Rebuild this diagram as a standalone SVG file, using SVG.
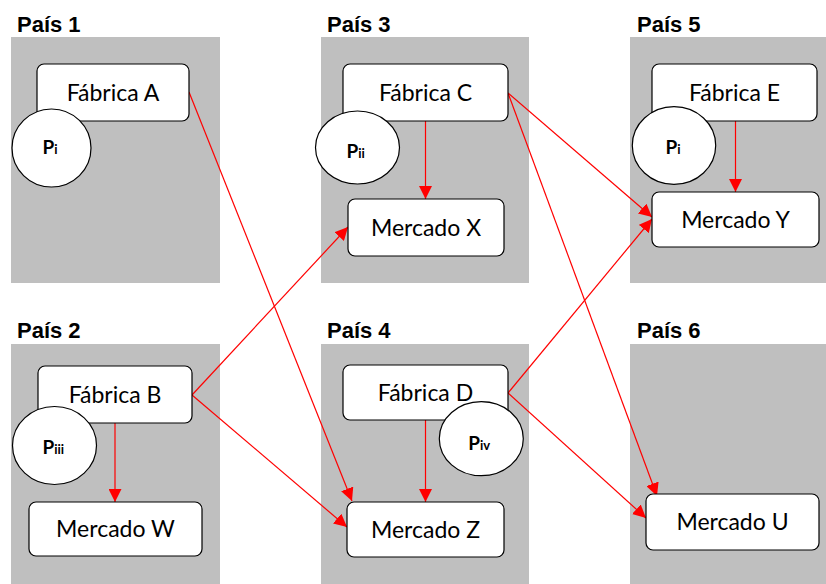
<svg xmlns="http://www.w3.org/2000/svg" width="826" height="584" viewBox="0 0 826 584">
<defs>
<marker id="ah" markerUnits="userSpaceOnUse" markerWidth="14" markerHeight="13" refX="13" refY="6.5" orient="auto">
<path d="M0,0 L13,6.5 L0,13 z" fill="#ff0000"/>
</marker>
<style>
.panel{fill:#bfbfbf;}
.title{font-family:"Liberation Sans",Arial,sans-serif;font-weight:bold;font-size:22px;fill:#000;}
.box{fill:#fff;stroke:#000;stroke-width:1.2;}
.lbl{font-family:Lato,"Liberation Sans",sans-serif;font-size:23px;fill:#000;text-anchor:middle;}
.circ{fill:#fff;stroke:#000;stroke-width:1.2;}
.p{font-family:Lato,"Liberation Sans",sans-serif;font-weight:bold;font-size:19px;fill:#000;}
.sub{font-size:13px;}
.con{stroke:#ff0000;stroke-width:1.2;fill:none;marker-end:url(#ah);}
</style>
</defs>
<rect width="826" height="584" fill="#fff"/>
<g id="pais1"><rect class="panel" x="11" y="37" width="209" height="246"/><text class="title" x="17" y="32">País 1</text></g>
<g id="pais3"><rect class="panel" x="321" y="37" width="208" height="246"/><text class="title" x="327" y="32">País 3</text></g>
<g id="pais5"><rect class="panel" x="630" y="37" width="196" height="246"/><text class="title" x="637" y="32">País 5</text></g>
<g id="pais2"><rect class="panel" x="11" y="344" width="209" height="240"/><text class="title" x="17" y="338">País 2</text></g>
<g id="pais4"><rect class="panel" x="321" y="344" width="208" height="240"/><text class="title" x="327" y="338">País 4</text></g>
<g id="pais6"><rect class="panel" x="630" y="344" width="196" height="240"/><text class="title" x="637" y="338">País 6</text></g>
<g id="connectors">
<path class="con" d="M189,92 L352,501"/>
<path class="con" d="M192,395 L348,227"/>
<path class="con" d="M192,395 L347,527"/>
<path class="con" d="M425.5,121 L425.5,199"/>
<path class="con" d="M508,93 L652,217"/>
<path class="con" d="M508,93 L657,496"/>
<path class="con" d="M508,393 L652,219"/>
<path class="con" d="M508,393 L646,518"/>
<path class="con" d="M735.5,121 L735.5,192"/>
<path class="con" d="M115,423 L115,502"/>
<path class="con" d="M425.5,420 L425.5,502"/>
</g>
<g id="fabricaA"><rect class="box" x="37" y="64" width="152" height="57" rx="7"/><text class="lbl" x="113" y="101">Fábrica A</text></g>
<g id="fabricaC"><rect class="box" x="343" y="64" width="165" height="57" rx="7"/><text class="lbl" x="425.5" y="101">Fábrica C</text></g>
<g id="fabricaE"><rect class="box" x="652" y="64" width="165" height="57" rx="7"/><text class="lbl" x="734.5" y="101">Fábrica E</text></g>
<g id="mercadoX"><rect class="box" x="348" y="199" width="156" height="57" rx="7"/><text class="lbl" x="426" y="235.5">Mercado X</text></g>
<g id="mercadoY"><rect class="box" x="652" y="192" width="167" height="55" rx="7"/><text class="lbl" x="735.5" y="227.5">Mercado Y</text></g>
<g id="fabricaB"><rect class="box" x="38" y="366" width="154" height="57" rx="7"/><text class="lbl" x="115" y="402.5">Fábrica B</text></g>
<g id="mercadoW"><rect class="box" x="29" y="502" width="173" height="54" rx="7"/><text class="lbl" x="115.5" y="537">Mercado W</text></g>
<g id="fabricaD"><rect class="box" x="343" y="365" width="165" height="55" rx="7"/><text class="lbl" x="425.5" y="400.5">Fábrica D</text></g>
<g id="mercadoZ"><rect class="box" x="347" y="502" width="157" height="55" rx="7"/><text class="lbl" x="425.5" y="537.5">Mercado Z</text></g>
<g id="mercadoU"><rect class="box" x="646" y="494" width="173" height="56" rx="7"/><text class="lbl" x="732.5" y="530">Mercado U</text></g>
<g id="p1"><ellipse class="circ" cx="51.5" cy="148" rx="39.5" ry="39"/><text class="p" x="42.5" y="154">P<tspan class="sub">i</tspan></text></g>
<g id="p2"><ellipse class="circ" cx="357.5" cy="147.5" rx="42" ry="36.5"/><text class="p" x="346.5" y="158">P<tspan class="sub">ii</tspan></text></g>
<g id="p5"><ellipse class="circ" cx="674" cy="145.5" rx="41.7" ry="38.8"/><text class="p" x="665.5" y="153.5">P<tspan class="sub">i</tspan></text></g>
<g id="p3"><ellipse class="circ" cx="54.5" cy="445.5" rx="42" ry="39"/><text class="p" x="42.5" y="453.5">P<tspan class="sub">iii</tspan></text></g>
<g id="p4"><ellipse class="circ" cx="481.3" cy="438.7" rx="42" ry="37"/><text class="p" x="468.3" y="450">P<tspan class="sub">iv</tspan></text></g>
</svg>
